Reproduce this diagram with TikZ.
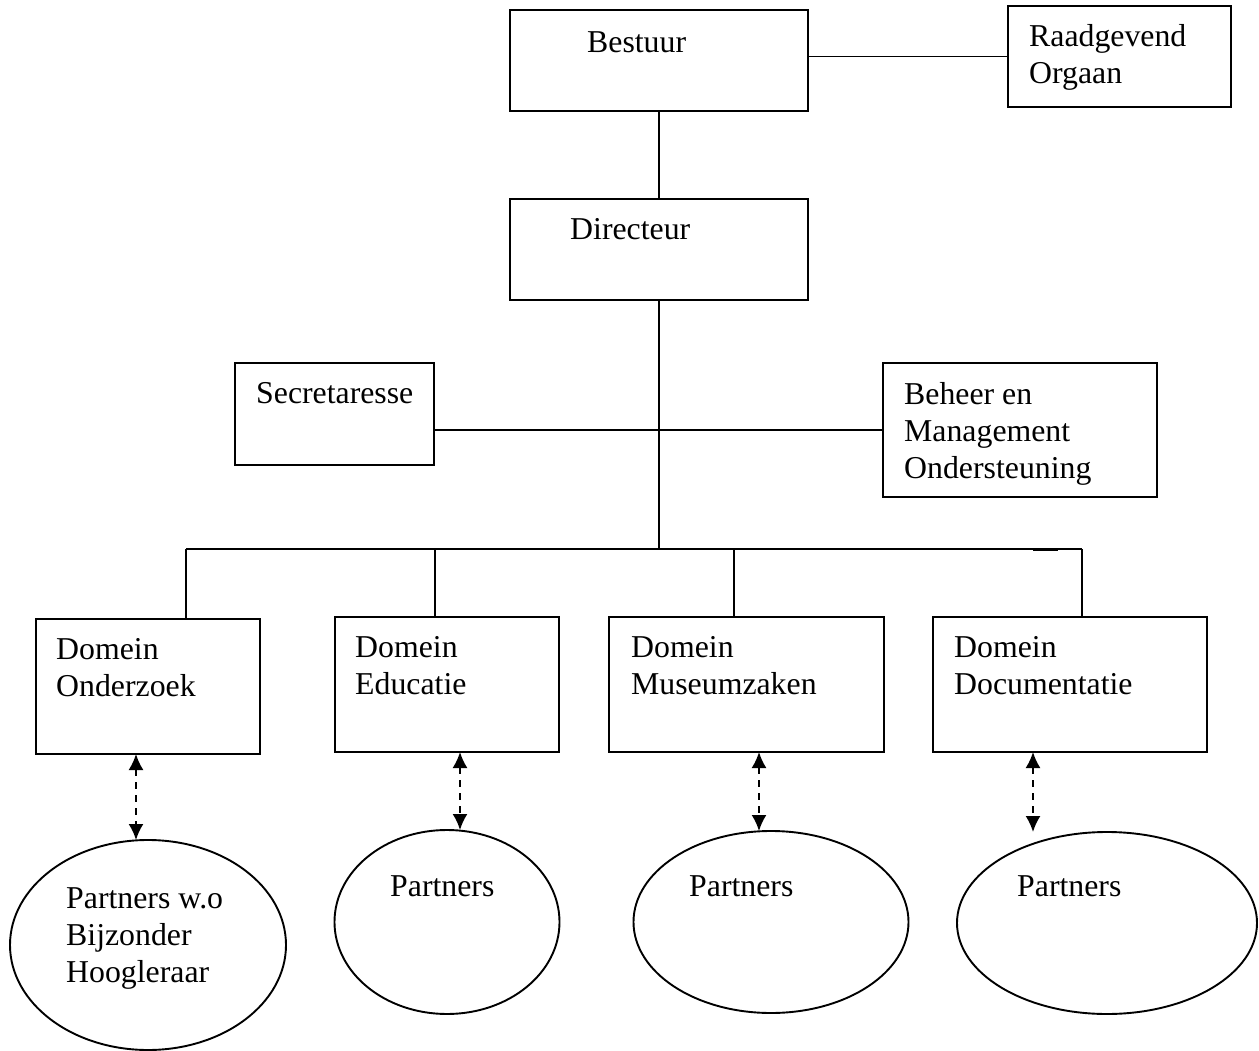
\documentclass[tikz,border=0pt]{standalone}
\usepackage{fontspec}
\setmainfont{Liberation Serif}
\usetikzlibrary{arrows.meta,shapes.geometric}
\tikzset{
  boxnode/.style={draw, line width=1.9pt, inner sep=0pt, outer sep=0pt},
  ovalnode/.style={draw, ellipse, line width=1.9pt, inner sep=0pt, outer sep=0pt},
  txt/.style={anchor=base west, inner sep=0pt, font=\fontsize{31.8}{37}\selectfont},
  conn/.style={line width=1.9pt},
  dasharrow/.style={line width=2pt, dash pattern=on 7pt off 6pt, {Latex[length=16pt,width=15pt]}-{Latex[length=16pt,width=15pt]}}
}
\newcommand{\tl}[1]{\begin{tabular}[t]{@{}l@{}}#1\end{tabular}}
\begin{document}
\begin{tikzpicture}[x=1pt,y=-1pt]
\useasboundingbox (0,0) rectangle (1259,1051);
% boxes
\node[boxnode, minimum width=298pt, minimum height=101pt] (bestuur) at (659,60.5) {};
\node[boxnode, minimum width=223pt, minimum height=101pt] (raad) at (1119.5,56.5) {};
\node[boxnode, minimum width=298pt, minimum height=101pt] (dir) at (659,249.5) {};
\node[boxnode, minimum width=199pt, minimum height=102pt] (secr) at (334.5,414) {};
\node[boxnode, minimum width=274pt, minimum height=134pt] (beheer) at (1020,430) {};
\node[boxnode, minimum width=224pt, minimum height=135pt] (ond) at (148,686.5) {};
\node[boxnode, minimum width=224pt, minimum height=135pt] (edu) at (447,684.5) {};
\node[boxnode, minimum width=275pt, minimum height=135pt] (mus) at (746.5,684.5) {};
\node[boxnode, minimum width=274pt, minimum height=135pt] (doc) at (1070,684.5) {};
% ellipses
\node[ovalnode, minimum width=276pt, minimum height=210pt] (p1) at (148,945) {};
\node[ovalnode, minimum width=225pt, minimum height=184pt] (p2) at (447,922) {};
\node[ovalnode, minimum width=275pt, minimum height=182pt] (p3) at (771,922) {};
\node[ovalnode, minimum width=300pt, minimum height=182pt] (p4) at (1107,923) {};
% texts
\node[txt] (tbestuur) at (587,53) {Bestuur};
\node[txt] (traad) at (1029,47) {\tl{Raadgevend\\Orgaan}};
\node[txt] (tdir) at (570,240) {Directeur};
\node[txt] (tsecr) at (256,403) {Secretaresse};
\node[txt] (tbeheer) at (904,404) {\tl{Beheer en\\Management\\Ondersteuning}};
\node[txt] (tond) at (56,659) {\tl{Domein\\Onderzoek}};
\node[txt] (tedu) at (355,657) {\tl{Domein\\Educatie}};
\node[txt] (tmus) at (631,657) {\tl{Domein\\Museumzaken}};
\node[txt] (tdoc) at (954,657) {\tl{Domein\\Documentatie}};
\node[txt] (tp1) at (66,908) {\tl{Partners w.o\\Bijzonder\\Hoogleraar}};
\node[txt] (tp2) at (390,896) {Partners};
\node[txt] (tp3) at (689,896) {Partners};
\node[txt] (tp4) at (1017,896) {Partners};
% coordinates
\coordinate (hub) at (659,549);
\coordinate (t1) at (186,549);
\coordinate (t2) at (435,549);
\coordinate (t3) at (734,549);
\coordinate (t4) at (1082,549);
\coordinate (blipA) at (1033,549);
\coordinate (blipB) at (1058,549);
\coordinate (a1) at (136,0);
\coordinate (a2) at (460,0);
\coordinate (a3) at (759,0);
\coordinate (a4) at (1033,0);
% connectors
\draw[conn] (bestuur.east |- raad.west) -- (raad.west);
\draw[conn] (bestuur.south) -- (dir.north);
\draw[conn] (dir.south) -- (hub);
\draw[conn] (secr.east |- beheer.west) -- (beheer.west);
\draw[conn] (t1) -- (t4);
\draw[line width=3pt] (blipA) -- (blipB);
\draw[conn] (t1) -- (t1 |- ond.north);
\draw[conn] (t2) -- (t2 |- edu.north);
\draw[conn] (t3) -- (t3 |- mus.north);
\draw[conn] (t4) -- (t4 |- doc.north);
\draw[dasharrow] (a1 |- ond.south) -- (a1 |- p1.north);
\draw[dasharrow] (a2 |- edu.south) -- (a2 |- p2.north);
\draw[dasharrow] (a3 |- mus.south) -- (a3 |- p3.north);
\draw[dasharrow] (a4 |- doc.south) -- (a4 |- p4.north);
\end{tikzpicture}
\end{document}
